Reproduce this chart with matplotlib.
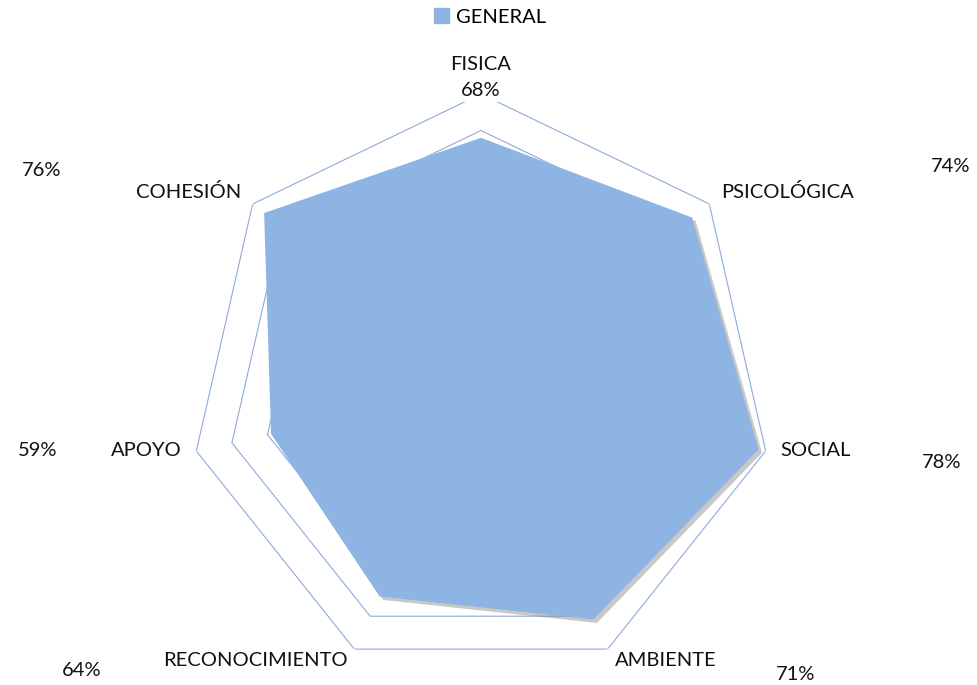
import numpy as np
from matplotlib import pyplot as plt
from matplotlib import patheffects as pe
from matplotlib.patches import Patch

categories = ["FISICA", "PSICOLÓGICA", "SOCIAL", "AMBIENTE", "RECONOCIMIENTO", "APOYO", "COHESIÓN"]
general = [0.68, 0.74, 0.78, 0.71, 0.64, 0.59, 0.76]
ring_levels = [0.1, 0.2, 0.3, 0.4, 0.5, 0.6, 0.7, 0.8]

FILL = "#8EB4E3"
GRID = "#8FAADC"
W, H = 977, 685

# label placement in pixels (x, y from top), alignment
cat_pos = [(481, 64, "center"), (721, 192, "left"), (780, 451, "left"), (666, 660, "center"),
           (255, 660, "center"), (182, 451, "right"), (241, 192, "right")]
pct_pos = [(481, 91), (951, 167), (942, 462), (796, 674), (82, 671), (38, 451), (42, 171)]

plt.rcParams["font.family"] = ["Lato", "DejaVu Sans"]

fig = plt.figure(figsize=(W / 100, H / 100), dpi=100)
cx, cy, R = 481, 386, 292
ax = fig.add_axes([(cx - R) / W, (H - cy - R) / H, 2 * R / W, 2 * R / H], projection="polar")
ax.set_theta_offset(np.pi / 2)
ax.set_theta_direction(-1)
ax.set_ylim(0, 0.8)
ax.grid(False)
ax.spines["polar"].set_visible(False)
ax.set_xticks([])
ax.set_yticks([])
ax.patch.set_alpha(0)

angles = np.linspace(0, 2 * np.pi, len(categories), endpoint=False)
closed = np.append(angles, angles[0])

for lvl in ring_levels:
    ax.plot(closed, [lvl] * len(closed), color=GRID, lw=0.8, zorder=1)

vals = np.append(general, general[0])
ax.fill(closed, vals, color=FILL, lw=0, zorder=3,
        path_effects=[pe.SimplePatchShadow(offset=(2.5, -2.5), shadow_rgbFace="#777777", alpha=0.4),
                      pe.Normal()])

for name, (x, y, ha) in zip(categories, cat_pos):
    fig.text(x / W, 1 - y / H, name, ha=ha, va="center", fontsize=14.5, color="#111111")

for v, (x, y) in zip(general, pct_pos):
    fig.text(x / W, 1 - y / H, f"{v * 100:.0f}%", ha="center", va="center", fontsize=14.5,
             color="#111111", bbox=dict(facecolor="white", edgecolor="none", pad=1.5))

fig.legend(handles=[Patch(color=FILL, label="GENERAL")], loc="center",
           bbox_to_anchor=(490 / W, 1 - 17 / H), frameon=False, fontsize=14.5,
           handlelength=0.75, handleheight=0.75, handletextpad=0.3)

fig.savefig("out.png", dpi=100)
